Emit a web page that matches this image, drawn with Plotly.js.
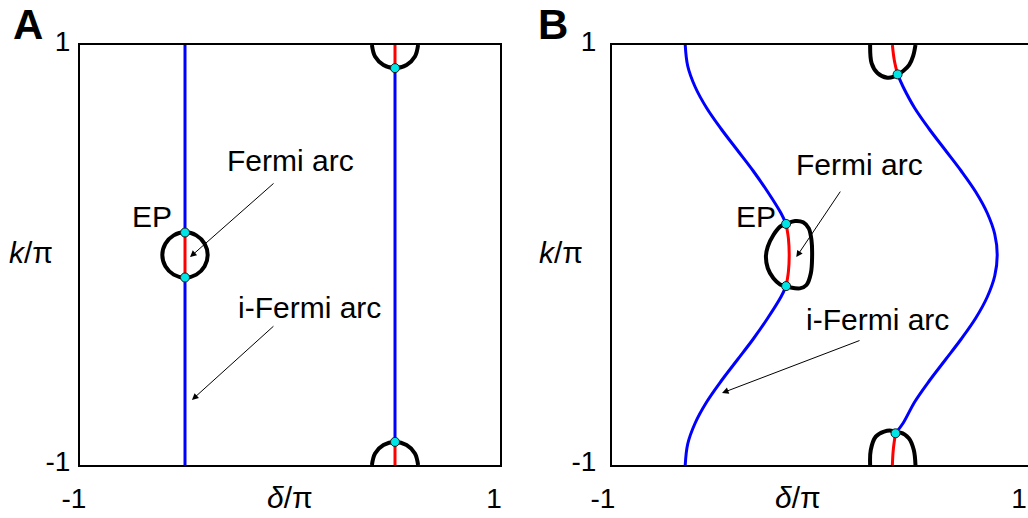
<!DOCTYPE html>
<html>
<head>
<meta charset="utf-8">
<script src="https://cdn.plot.ly/plotly-3.0.1.min.js"></script>
<style>
html,body{margin:0;padding:0;background:#fff;overflow:hidden;}
#chart{width:1028px;height:518px;}
</style>
</head>
<body>
<div id="chart"></div>
<script>
// ---------------- Panel A data ----------------
const aLeftX = [-0.5, -0.5];
const aLeftBlueTopK = [1, 0.107];
const aLeftRedK = [0.107, -0.107];
const aLeftBlueBotK = [-0.107, -1];
const aRightX = [0.5, 0.5];
const aRightRedTopK = [1, 0.89];
const aRightBlueK = [0.89, -0.89];
const aRightRedBotK = [-0.89, -1];
const aLoopMidX = [-0.5, -0.446, -0.4065, -0.392, -0.4065, -0.446, -0.5, -0.554, -0.5935, -0.608, -0.5935, -0.554, -0.5];
const aLoopMidK = [0.108, 0.0935, 0.054, 0, -0.054, -0.0935, -0.108, -0.0935, -0.054, 0, 0.054, 0.0935, 0.108];
const aLoopTopX = [0.39, 0.405, 0.445, 0.5, 0.555, 0.595, 0.61];
const aLoopTopK = [1, 0.945, 0.905, 0.89, 0.905, 0.945, 1];
const aLoopBotX = [0.39, 0.405, 0.445, 0.5, 0.555, 0.595, 0.61];
const aLoopBotK = [-1, -0.945, -0.905, -0.89, -0.905, -0.945, -1];
const aEPX = [-0.5, -0.5, 0.5, 0.5];
const aEPK = [0.107, -0.107, 0.89, -0.89];

// ---------------- Panel B data ----------------
const bLeftBlueTopX = [-0.648, -0.636, -0.600, -0.545, -0.475, -0.398, -0.321, -0.251, -0.188, -0.163];
const bLeftBlueTopK = [1, 0.9, 0.8, 0.7, 0.6, 0.5, 0.4, 0.3, 0.2, 0.148];
const bLeftRedX = [-0.163, -0.152, -0.148, -0.152, -0.163];
const bLeftRedK = [0.148, 0.08, 0, -0.08, -0.148];
const bLeftBlueBotX = [-0.163, -0.188, -0.251, -0.321, -0.398, -0.475, -0.545, -0.600, -0.636, -0.648];
const bLeftBlueBotK = [-0.148, -0.2, -0.3, -0.4, -0.5, -0.6, -0.7, -0.8, -0.9, -1];
const bRightRedTopX = [0.373, 0.357, 0.348];
const bRightRedTopK = [0.86, 0.929, 1];
const bRightBlueX = [0.373, 0.400, 0.455, 0.525, 0.602, 0.679, 0.749, 0.804, 0.840, 0.852, 0.840, 0.804, 0.749, 0.679, 0.602, 0.525, 0.455, 0.400, 0.363];
const bRightBlueK = [0.86, 0.8, 0.7, 0.6, 0.5, 0.4, 0.3, 0.2, 0.1, 0, -0.1, -0.2, -0.3, -0.4, -0.5, -0.6, -0.7, -0.8, -0.849];
const bRightRedBotX = [0.363, 0.352, 0.348];
const bRightRedBotK = [-0.849, -0.93, -1];
const bLoopMidX = [-0.163, -0.120, -0.081, -0.054, -0.041, -0.038, -0.044, -0.065, -0.097, -0.144, -0.163, -0.192, -0.224, -0.251, -0.260, -0.251, -0.224, -0.192, -0.163];
const bLoopMidK = [0.148, 0.162, 0.156, 0.127, 0.071, -0.008, -0.087, -0.143, -0.159, -0.154, -0.148, -0.140, -0.111, -0.063, -0.008, 0.040, 0.095, 0.135, 0.148];
const bLoopTopX = [0.241, 0.248, 0.276, 0.324, 0.352, 0.373, 0.40, 0.429, 0.448, 0.459];
const bLoopTopK = [1, 0.914, 0.867, 0.844, 0.848, 0.860, 0.876, 0.905, 0.948, 1];
const bLoopBotX = [0.241, 0.244, 0.268, 0.308, 0.348, 0.363, 0.387, 0.427, 0.451, 0.459];
const bLoopBotK = [-1, -0.929, -0.865, -0.841, -0.838, -0.849, -0.846, -0.873, -0.929, -1];
const bEPX = [-0.163, -0.163, 0.373, 0.363];
const bEPK = [0.148, -0.148, 0.860, -0.849];

// ---------------- Labels ----------------
const tickVals = [-1, 1];
const tickText = ['-1', '1'];
const panelLabels = ['A', 'B'];
const xTitle = '<i>δ</i>/π';
const yTitle = '<i>k</i>/π';
const labelEP = 'EP';
const labelFermi = 'Fermi arc';
const labelIFermi = 'i-Fermi arc';

// ---------------- Styles ----------------
const FONT = 'Liberation Sans, Arial, Helvetica, sans-serif';
const BLUE = '#0000ff', RED = '#ff0000', BLACK = '#000000', CYAN = '#00e5e5';

function line(x, y, color, width, xa, ya, smooth) {
  return {x: x, y: y, xaxis: xa, yaxis: ya, mode: 'lines', type: 'scatter', hoverinfo: 'skip',
          line: {color: color, width: width, shape: smooth ? 'spline' : 'linear', smoothing: 1}};
}
function pts(x, y, xa, ya) {
  return {x: x, y: y, xaxis: xa, yaxis: ya, mode: 'markers', type: 'scatter', hoverinfo: 'skip', cliponaxis: false,
          marker: {color: CYAN, size: 9, line: {color: '#1a1a1a', width: 1}}};
}

const traces = [
  // panel A
  line(aLoopMidX, aLoopMidK, BLACK, 4, 'x', 'y', true),
  line(aLoopTopX, aLoopTopK, BLACK, 4, 'x', 'y', true),
  line(aLoopBotX, aLoopBotK, BLACK, 4, 'x', 'y', true),
  line(aLeftX, aLeftBlueTopK, BLUE, 3, 'x', 'y'),
  line(aLeftX, aLeftRedK, RED, 3, 'x', 'y'),
  line(aLeftX, aLeftBlueBotK, BLUE, 3, 'x', 'y'),
  line(aRightX, aRightRedTopK, RED, 3, 'x', 'y'),
  line(aRightX, aRightBlueK, BLUE, 3, 'x', 'y'),
  line(aRightX, aRightRedBotK, RED, 3, 'x', 'y'),
  pts(aEPX, aEPK, 'x', 'y'),
  // panel B
  line(bLoopMidX, bLoopMidK, BLACK, 4, 'x2', 'y2', true),
  line(bLoopTopX, bLoopTopK, BLACK, 4, 'x2', 'y2', true),
  line(bLoopBotX, bLoopBotK, BLACK, 4, 'x2', 'y2', true),
  line(bLeftBlueTopX, bLeftBlueTopK, BLUE, 3, 'x2', 'y2', true),
  line(bLeftRedX, bLeftRedK, RED, 3, 'x2', 'y2', true),
  line(bLeftBlueBotX, bLeftBlueBotK, BLUE, 3, 'x2', 'y2', true),
  line(bRightRedTopX, bRightRedTopK, RED, 3, 'x2', 'y2', true),
  line(bRightBlueX, bRightBlueK, BLUE, 3, 'x2', 'y2', true),
  line(bRightRedBotX, bRightRedBotK, RED, 3, 'x2', 'y2', true),
  pts(bEPX, bEPK, 'x2', 'y2')
];

const W = 1028, H = 518;
const tickFont = {family: FONT, size: 28, color: BLACK};
function xAxis(dom, anchor, shift) {
  return {domain: dom, anchor: anchor, range: [-1, 1], showline: true, mirror: true, linecolor: BLACK, linewidth: 2,
          showgrid: false, zeroline: false, ticks: '', tickvals: tickVals, ticktext: tickText, tickfont: tickFont,
          ticklabelstandoff: 7, ticklabelshift: shift, fixedrange: true};
}
function yAxis(anchor, mirror, standoff) {
  return {domain: [1 - 465 / H, 1 - 45 / H], anchor: anchor, range: [-1, 1], showline: true, mirror: mirror,
          linecolor: BLACK, linewidth: 2, showgrid: false, zeroline: false, ticks: '', tickvals: tickVals,
          ticktext: tickText, tickfont: tickFont, ticklabelstandoff: standoff, ticklabelshift: -4, fixedrange: true};
}

const txt = {family: FONT, size: 30, color: BLACK};
// text placed in pixel positions of the picture
function note(text, px, py, anchor, extra) {
  return Object.assign({text: text, x: px / W, y: 1 - py / H, xref: 'paper', yref: 'paper', showarrow: false,
                        xanchor: anchor || 'center', yanchor: 'middle', font: txt, borderpad: 0}, extra || {});
}
function arrow(x, y, ax, ay, xref, yref) {
  return {text: '', x: x, y: y, xref: xref, yref: yref, ax: ax, ay: ay, showarrow: true,
          arrowhead: 2, arrowsize: 1.3, arrowwidth: 1, arrowcolor: BLACK, standoff: 0, startstandoff: 0};
}

const panelFont = {family: FONT, size: 42, color: BLACK};
const annotations = [
  note('<b>' + panelLabels[0] + '</b>', 28, 0, 'center', {yanchor: 'top', y: 1, font: panelFont}),
  note('<b>' + panelLabels[1] + '</b>', 553, 0, 'center', {yanchor: 'top', y: 1, font: panelFont}),
  note(yTitle, 31, 252),
  note(yTitle, 561, 252),
  note(xTitle, 290, 497),
  note(xTitle, 798, 497),
  // panel A labels
  note(labelFermi, 226, 160, 'left'),
  note(labelEP, 131, 216, 'left'),
  note(labelIFermi, 237, 307, 'left'),
  arrow(-0.476, -0.010, 85, -75, 'x', 'y'),
  arrow(-0.467, -0.690, 83, -75, 'x', 'y'),
  // panel B labels
  note(labelFermi, 795, 165, 'left'),
  note(labelEP, 735, 216, 'left'),
  note(labelIFermi, 805, 319, 'left'),
  arrow(-0.114, -0.010, 45, -67, 'x2', 'y2'),
  arrow(-0.471, -0.657, 139, -53, 'x2', 'y2')
];

const layout = {
  width: W, height: H, margin: {l: 0, r: 0, t: 0, b: 0, pad: 0},
  paper_bgcolor: '#ffffff', plot_bgcolor: '#ffffff', showlegend: false,
  font: {family: FONT, color: BLACK},
  xaxis: xAxis([80 / W, 500 / W], 'y', -6),
  yaxis: yAxis('x', true, 2),
  xaxis2: xAxis([612 / W, 1], 'y2', -9),
  yaxis2: yAxis('x2', false, 8),
  annotations: annotations
};

Plotly.newPlot('chart', traces, layout, {displayModeBar: false, staticPlot: true});
</script>
</body>
</html>
